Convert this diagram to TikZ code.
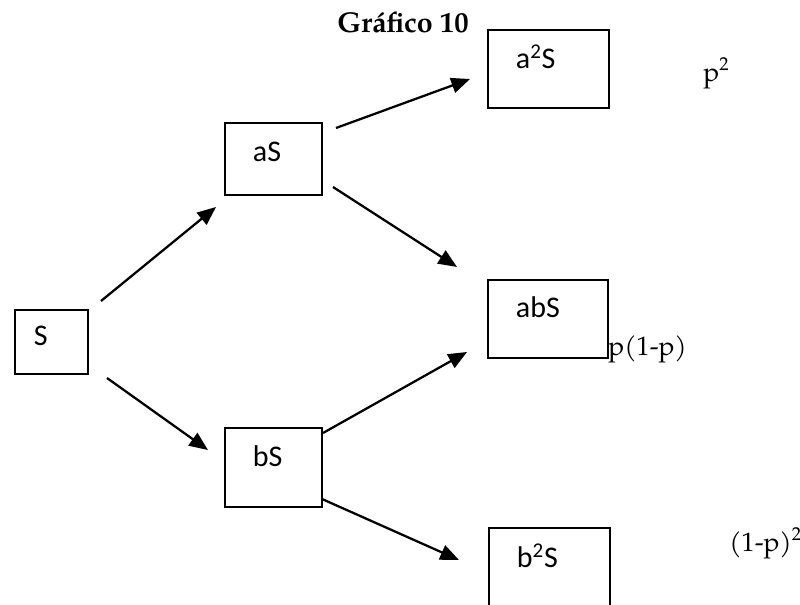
\documentclass[tikz,border=0pt]{standalone}
\usepackage{fontspec}
\setmainfont{TeX Gyre Pagella}
\newfontfamily\boxfont{Carlito}
\usetikzlibrary{arrows.meta}

\tikzset{
  % rectangles holding the states; text sits near the top left corner
  statebox/.style={draw, line width=1.4pt, anchor=north west, inner ysep=0pt,
    align=left, font=\boxfont\fontsize{22.5}{26}\selectfont},
  bigbox/.style={statebox, inner xsep=21pt, text width=48.75pt},
  midbox/.style={statebox, inner xsep=21pt, text width=30.75pt},
  move/.style={line width=1.7pt, -{Triangle[length=14pt,width=11.5pt]}},
  prob/.style={anchor=base west, inner sep=0pt, font=\fontsize{20}{24}\selectfont},
  heading/.style={anchor=base west, inner sep=0pt, font=\bfseries\fontsize{21.5}{26}\selectfont}
}

\begin{document}
\begin{tikzpicture}[x=0.75pt, y=-0.75pt]
  \useasboundingbox (0,0) rectangle (800,604);

  \node[heading] (title) at (337,32) {Gráfico 10};

  % boxes
  \node[statebox, inner xsep=14.25pt, text width=26.25pt, text height=27pt, text depth=21pt]
    (s) at (14,309) {S};
  \node[midbox, text height=29.25pt, text depth=24.75pt] (as) at (224,122) {aS};
  \node[midbox, text height=29.25pt, text depth=30pt] (bs) at (224,427) {bS};
  \node[bigbox, text height=29.25pt, text depth=29.25pt] (aas) at (487,29) {a\textsuperscript{2}S};
  \node[bigbox, text width=48pt, text height=28.5pt, text depth=30pt] (abs) at (487,279) {abS};
  \node[bigbox, text height=30pt, text depth=30pt] (bbs) at (488,527) {b\textsuperscript{2}S};

  % probabilities
  \node[prob] (paa) at (703,81) {p\textsuperscript{2}};
  \node[prob] (pab) at (608,355) {p(1-p)};
  \node[prob] (pbb) at (729,551) {(1-p)\textsuperscript{2}};

  % arrow end points
  \coordinate (s-up)    at (101,301);
  \coordinate (as-in)   at (216,207);
  \coordinate (s-down)  at (107,378);
  \coordinate (bs-in)   at (208,450);
  \coordinate (as-up)   at (336,128);
  \coordinate (aas-in)  at (470,79);
  \coordinate (as-down) at (333,187);
  \coordinate (abs-in1) at (457,267);
  \coordinate (bs-up)   at (323,433);
  \coordinate (abs-in2) at (467,352);
  \coordinate (bs-down) at (322,499);
  \coordinate (bbs-in)  at (459,560);

  % arrows
  \draw[move] (s-up) -- (as-in);
  \draw[move] (s-down) -- (bs-in);
  \draw[move] (as-up) -- (aas-in);
  \draw[move] (as-down) -- (abs-in1);
  \draw[move] (bs-up) -- (abs-in2);
  \draw[move] (bs-down) -- (bbs-in);
\end{tikzpicture}
\end{document}
